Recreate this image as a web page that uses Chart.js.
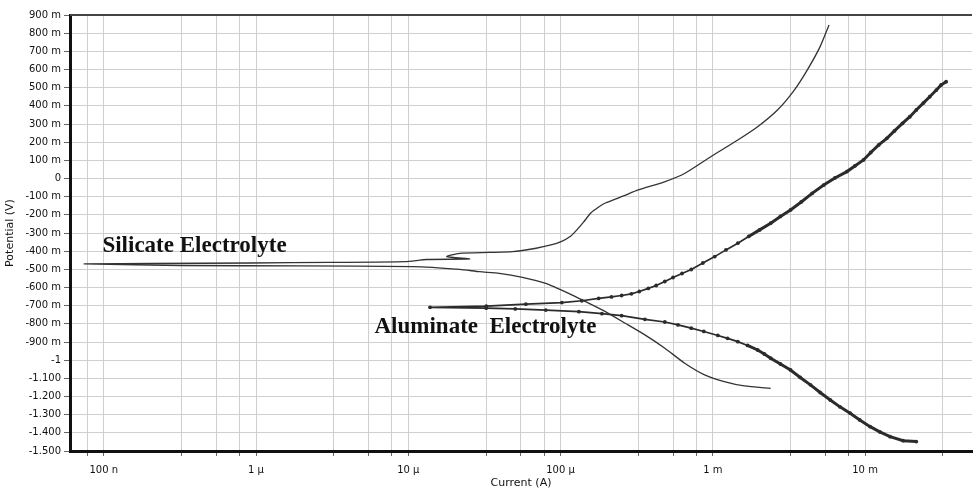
<!DOCTYPE html>
<html>
<head>
<meta charset="utf-8">
<title>Polarization curves</title>
<script src="https://cdn.jsdelivr.net/npm/chart.js@4/dist/chart.umd.min.js"></script>
<style>
  html, body { margin: 0; padding: 0; background: #fff; }
  #chart { display: block; }
</style>
</head>
<body>
<canvas id="chart" width="976" height="491"></canvas>
<script>
// Silicate electrolyte scan (current in A, potential in V)
const silicateCurrent = [
  2.40e-3, 1.61e-3, 1.19e-3, 8.83e-4, 6.54e-4, 4.84e-4, 3.58e-4, 2.66e-4, 1.97e-4, 1.46e-4,
  1.13e-4, 8.0e-5, 5.62e-5, 3.96e-5, 2.94e-5, 2.17e-5, 1.07e-5, 1.97e-6, 3.24e-7, 7.44e-8,
  2.07e-7, 9.27e-7, 3.08e-6, 9.5e-6, 1.32e-5, 2.53e-5, 1.79e-5, 2.17e-5, 3.41e-5, 4.82e-5,
  6.91e-5, 8.66e-5, 1.0e-4, 1.17e-4, 1.28e-4, 1.42e-4, 1.58e-4, 1.78e-4, 1.97e-4, 2.59e-4,
  3.24e-4, 4.86e-4, 6.56e-4, 9.7e-4, 1.46e-3, 1.97e-3, 2.66e-3, 3.43e-3, 4.17e-3, 5.07e-3,
  5.80e-3
];
const silicatePotential = [
  -1.155, -1.142, -1.118, -1.081, -1.017, -0.934, -0.861, -0.797, -0.733, -0.678,
  -0.632, -0.577, -0.544, -0.522, -0.513, -0.500, -0.485, -0.481, -0.479, -0.470,
  -0.468, -0.465, -0.462, -0.458, -0.446, -0.443, -0.430, -0.412, -0.407, -0.403,
  -0.384, -0.366, -0.349, -0.316, -0.283, -0.239, -0.190, -0.157, -0.135, -0.096,
  -0.063, -0.017, 0.029, 0.120, 0.212, 0.285, 0.377, 0.487, 0.597, 0.726,
  0.845
];

// Aluminate electrolyte scan, cathodic end first
const aluminateCurrent = [
  2.17e-2, 1.78e-2, 1.46e-2, 1.25e-2, 1.08e-2, 9.23e-3, 7.98e-3, 6.84e-3, 5.91e-3, 5.07e-3,
  4.38e-3, 3.75e-3, 3.24e-3, 2.78e-3, 2.40e-3, 2.18e-3, 1.97e-3, 1.69e-3, 1.46e-3, 1.25e-3,
  1.08e-3, 8.73e-4, 7.22e-4, 5.91e-4, 4.84e-4, 3.58e-4, 2.52e-4, 1.87e-4, 1.32e-4, 8.0e-5,
  5.04e-5, 3.25e-5, 1.39e-5,
  3.25e-5, 5.92e-5, 1.02e-4, 1.38e-4, 1.78e-4, 2.16e-4, 2.52e-4, 2.92e-4, 3.29e-4, 3.77e-4,
  4.25e-4, 4.84e-4, 5.48e-4, 6.28e-4, 7.22e-4, 8.61e-4, 1.03e-3, 1.22e-3, 1.46e-3, 1.72e-3,
  2.03e-3, 2.40e-3, 2.78e-3, 3.24e-3, 3.81e-3, 4.49e-3, 5.35e-3, 6.34e-3, 7.60e-3, 8.57e-3,
  9.77e-3, 1.09e-2, 1.23e-2, 1.39e-2, 1.56e-2, 1.76e-2, 1.97e-2, 2.17e-2, 2.42e-2, 2.66e-2,
  2.94e-2, 3.16e-2, 3.41e-2
];
const aluminatePotential = [
  -1.448, -1.443, -1.421, -1.395, -1.366, -1.329, -1.292, -1.257, -1.219, -1.178,
  -1.136, -1.095, -1.054, -1.021, -0.989, -0.966, -0.944, -0.919, -0.898, -0.880,
  -0.864, -0.842, -0.824, -0.806, -0.790, -0.775, -0.755, -0.744, -0.733, -0.724,
  -0.718, -0.714, -0.709,
  -0.702, -0.692, -0.683, -0.673, -0.660, -0.652, -0.644, -0.635, -0.622, -0.605,
  -0.589, -0.567, -0.545, -0.523, -0.501, -0.465, -0.430, -0.393, -0.356, -0.319,
  -0.283, -0.246, -0.209, -0.173, -0.129, -0.082, -0.036, 0.003, 0.038, 0.069,
  0.102, 0.143, 0.185, 0.221, 0.262, 0.303, 0.340, 0.377, 0.416, 0.450,
  0.487, 0.515, 0.533
];

const xTickValues = [1e-7, 1e-6, 1e-5, 1e-4, 1e-3, 1e-2];
const xTickLabels = ['100 n', '1 µ', '10 µ', '100 µ', '1 m', '10 m'];
const xGridSteps = [1, 3.24, 5.48, 7.8]; // grid lines inside each decade

const yTickValues = [0.9, 0.8, 0.7, 0.6, 0.5, 0.4, 0.3, 0.2, 0.1, 0, -0.1, -0.2, -0.3,
  -0.4, -0.5, -0.6, -0.7, -0.8, -0.9, -1, -1.1, -1.2, -1.3, -1.4, -1.5];
const yTickLabels = ['900 m', '800 m', '700 m', '600 m', '500 m', '400 m', '300 m', '200 m',
  '100 m', '0', '-100 m', '-200 m', '-300 m', '-400 m', '-500 m', '-600 m', '-700 m',
  '-800 m', '-900 m', '-1', '-1.100', '-1.200', '-1.300', '-1.400', '-1.500'];

const curveNames = ['Silicate Electrolyte', 'Aluminate  Electrolyte'];

const X_MIN = 6.2e-8;
const X_MAX = 5.04e-2;

function toPoints(xs, ys) {
  return xs.map((x, i) => ({ x: x, y: ys[i] }));
}

function xGridValues() {
  const out = [];
  for (let e = -8; e <= -2; e++) {
    xGridSteps.forEach(m => {
      const v = m * Math.pow(10, e);
      if (v >= X_MIN && v <= X_MAX) out.push(v);
    });
  }
  return out;
}

// Thin dark line along the top of the plot frame
const topFrame = {
  id: 'topFrame',
  afterDraw(chart) {
    const { ctx, chartArea } = chart;
    ctx.save();
    ctx.strokeStyle = '#444';
    ctx.lineWidth = 2;
    ctx.beginPath();
    ctx.moveTo(chartArea.left, chartArea.top);
    ctx.lineTo(chartArea.right, chartArea.top);
    ctx.stroke();
    ctx.restore();
  }
};

// Curve names written on the plot, anchored in data units
const curveLabels = {
  id: 'curveLabels',
  afterDatasetsDraw(chart) {
    const { ctx, scales } = chart;
    const anchors = [{ x: 0.98e-7, y: -0.405 }, { x: 6.0e-6, y: -0.852 }];
    ctx.save();
    ctx.font = 'bold 23px "Liberation Serif", "Times New Roman", serif';
    ctx.fillStyle = '#111';
    ctx.textBaseline = 'alphabetic';
    curveNames.forEach((name, i) => {
      ctx.fillText(name, scales.x.getPixelForValue(anchors[i].x), scales.y.getPixelForValue(anchors[i].y));
    });
    ctx.restore();
  }
};

Chart.defaults.font.family = '"DejaVu Sans", "Liberation Sans", Arial, sans-serif';

const ctx = document.getElementById('chart').getContext('2d');
new Chart(ctx, {
  type: 'line',
  data: {
    datasets: [
      {
        label: curveNames[0],
        data: toPoints(silicateCurrent, silicatePotential),
        borderColor: '#333',
        borderWidth: 1.3,
        pointRadius: 0,
        tension: 0.2
      },
      {
        label: curveNames[1],
        data: toPoints(aluminateCurrent, aluminatePotential),
        borderColor: '#2b2b2b',
        borderWidth: 1.7,
        pointRadius: 1.9,
        pointBackgroundColor: '#2b2b2b',
        pointBorderWidth: 0,
        tension: 0,
        // the dense high-current part of the scan reads as a heavier stroke
        segment: {
          borderWidth: c => (c.p0.parsed.x > 1.5e-3 && c.p1.parsed.x > 1.5e-3 ? 3 : 1.7)
        }
      }
    ]
  },
  options: {
    responsive: false,
    animation: false,
    layout: { padding: { top: 15, right: 0, left: 0, bottom: 0 } },
    plugins: {
      legend: { display: false },
      tooltip: { enabled: false }
    },
    scales: {
      x: {
        type: 'logarithmic',
        min: X_MIN,
        max: X_MAX,
        afterBuildTicks: scale => { scale.ticks = xGridValues().map(v => ({ value: v })); },
        afterFit: scale => { scale.height = 40; },
        ticks: {
          autoSkip: false,
          maxRotation: 0,
          padding: 8,
          color: '#111',
          font: { size: 10 },
          callback: value => {
            const i = xTickValues.findIndex(v => Math.abs(v - value) / v < 1e-6);
            return i >= 0 ? xTickLabels[i] : '';
          }
        },
        grid: { color: '#cfcfcf', lineWidth: 1, tickLength: 5, tickColor: '#666' },
        border: { display: true, color: '#111', width: 3 },
        title: {
          display: true,
          text: 'Current (A)',
          color: '#111',
          font: { size: 11 },
          padding: { top: 0, bottom: 1 }
        }
      },
      y: {
        type: 'linear',
        min: -1.5,
        max: 0.9,
        afterBuildTicks: scale => { scale.ticks = yTickValues.map(v => ({ value: v })); },
        afterFit: scale => { scale.width = 70; },
        ticks: {
          autoSkip: false,
          padding: 3,
          color: '#111',
          font: { size: 10 },
          callback: value => {
            const i = yTickValues.findIndex(v => Math.abs(v - value) < 1e-9);
            return i >= 0 ? yTickLabels[i] : '';
          }
        },
        grid: { color: '#cfcfcf', lineWidth: 1, tickLength: 6, tickColor: '#666' },
        border: { display: true, color: '#111', width: 3 },
        title: {
          display: true,
          text: 'Potential (V)',
          color: '#111',
          font: { size: 11 },
          padding: { top: 4, bottom: 0 }
        }
      }
    }
  },
  plugins: [topFrame, curveLabels]
});
</script>
</body>
</html>
